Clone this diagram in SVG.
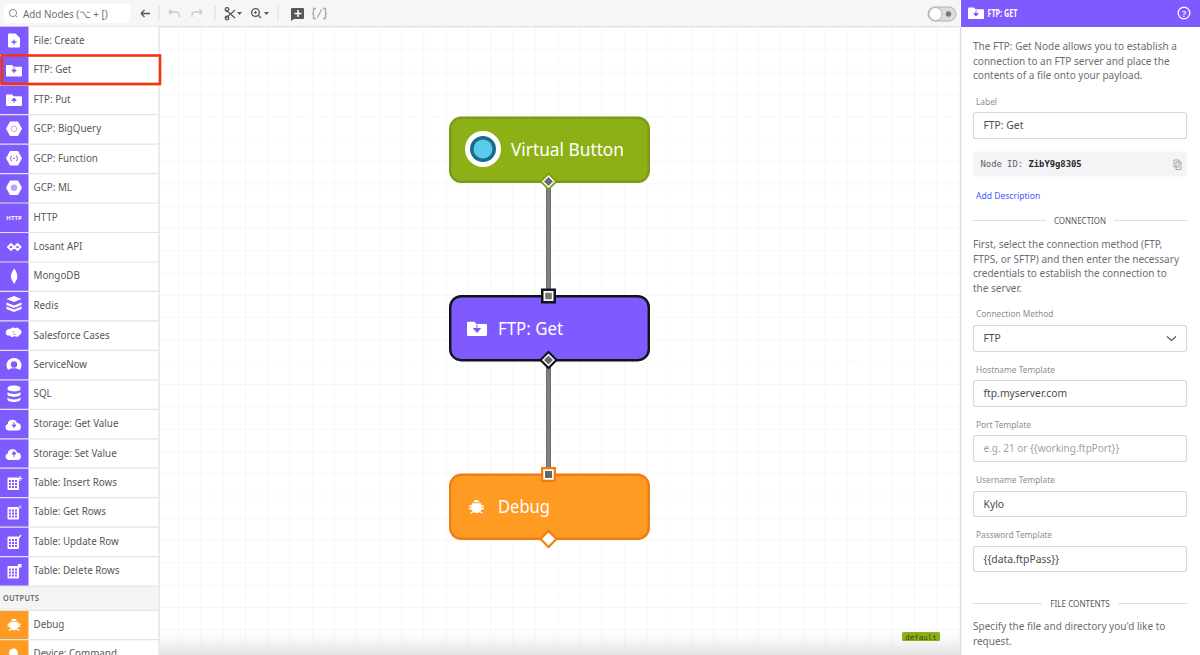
<svg xmlns="http://www.w3.org/2000/svg" width="1200" height="655" viewBox="0 0 1200 655">
<style>
text{font-family:"Noto Sans","Open Sans","Liberation Sans",sans-serif}
.sep{stroke:#e3e4e6;stroke-width:1.2}
.rt{font-size:10.6px;fill:#55575c}
.ic{fill:#fff}
.ip{fill:#7f5aff}
.para{font-size:10.9px;fill:#6c6e73}
.lab{font-size:9.2px;fill:#8d8f93}
.field{fill:#fff;stroke:#d5d7da;stroke-width:1.2}
.val{font-size:11px;fill:#4a4c50}
.head{font-size:9.2px;fill:#55575c}
.rule{stroke:#dfe0e2;stroke-width:1.2}
.nt{font-size:18.4px;fill:#fff}
.wire{stroke:#666;stroke-width:5}
.wire2{stroke:#808080;stroke-width:3.400}
.tool{fill:none;stroke:#55575c;stroke-width:1.300}
.tooloff{fill:none;stroke:#c9cacc;stroke-width:1.400}
</style>
<defs>
<pattern id="grid" width="22.300" height="22.300" patternUnits="userSpaceOnUse" x="-0.300" y="4.900">
<path d="M22.300 0H0V22.300" fill="none" stroke="#f0f0f1" stroke-width="1"/>
</pattern>
<linearGradient id="fade" x1="0" y1="0" x2="0" y2="1"><stop offset="0" stop-color="#e4e4e4" stop-opacity="0"/><stop offset="1" stop-color="#dcdcdc" stop-opacity=".8"/></linearGradient>
<g id="folder"><path d="M-7-5.500h5l1.600 1.800H7a1 1 0 0 1 1 1V5a1 1 0 0 1-1 1H-7a1 1 0 0 1-1-1V-4.500a1 1 0 0 1 1-1z"/></g>
<g id="hex"><path d="M-4-7.200H4L8 0 4 7.200H-4L-8 0z"/></g>
<g id="tbl"><rect x="-6.500" y="-6" width="11.500" height="12.500" rx="1" class="ic"/><path d="M-5-3.500h2v2h-2zM-2-3.500h2v2h-2zM1-3.500h2v2H1zM-5-.5h2v2h-2zM-2-.5h2v2h-2zM1-.5h2v2H1zM-5 2.500h2v2h-2zM-2 2.500h2v2h-2zM1 2.500h2v2H1z" class="ip"/></g>
<g id="cloud"><path d="M-5.500 6a3.300 3.300 0 0 1-.8-6.400A4.800 4.800 0 0 1 3-1.600 3.900 3.900 0 0 1 4.200 6z"/></g>
<g id="bug"><path d="M-2.800-3.600a2.900 2.900 0 0 1 5.600 0zM-3.800-2.800h7.600A4.400 4.400 0 0 1 4.500-.9H6.500v1.300H4.500V1.300H6.500v1.300H4.300A4.600 4.600 0 0 1 3.200 4.200L5.500 5.200 5 6.400 2.200 5.100A4.500 4.500 0 0 1-2.200 5.100L-5 6.400-5.500 5.200-3.200 4.200A4.600 4.600 0 0 1-4.300 2.600H-6.500V1.300H-4.500V.4H-6.500V-.9H-4.500A4.400 4.400 0 0 1-3.800-2.800z"/></g>
</defs>

<rect width="1200" height="655" fill="#fff"/>
<rect id="canvas" x="160" y="27" width="800" height="628" fill="url(#grid)"/>
<rect x="160" y="632" width="800" height="23" fill="url(#fade)"/>

<g id="toolbar">
<rect width="961" height="26.500" fill="#f6f6f7"/>
<rect y="26" width="961" height="1.200" fill="#e1e2e4"/>
<rect x="4" y="4" width="126" height="19" rx="3" fill="#fff"/>
<circle cx="13" cy="13" r="3.600" fill="none" stroke="#8b8d90"/><path d="M15.500 15.500l2 2" stroke="#8b8d90"/>
<text transform="translate(23 17.500) scale(.93 1)" font-size="10.600" fill="#6c6e73">Add Nodes (⌥ + [)</text>
<path d="M141 13.500h9M141 13.500l3.500-3.500M141 13.500l3.500 3.500" class="tool"/>
<path d="M159 6v15" stroke="#d9dadc"/>
<path d="M169 12h7a3 3 0 0 1 3 3v2M169 12l2.500-2.500M169 12l2.500 2.500" class="tooloff"/>
<path d="M202 12h-7a3 3 0 0 0-3 3v2M202 12l-2.500-2.500M202 12l-2.500 2.500" class="tooloff"/>
<path d="M215 6v15" stroke="#d9dadc"/>
<path d="M226 10l9 8M226 18l9-8" class="tool"/><circle cx="227" cy="9.500" r="1.800" class="tool"/><circle cx="227" cy="18" r="1.800" class="tool"/>
<path d="M237 12h5l-2.500 3z" fill="#55575c"/>
<circle cx="255.500" cy="12.500" r="3.800" class="tool"/><path d="M258.500 15.500l2.500 2.500" class="tool"/><path d="M254 12.500h3M255.500 11v3" stroke="#55575c"/>
<path d="M264 12h5l-2.500 3z" fill="#55575c"/>
<path d="M278 6v15" stroke="#d9dadc"/>
<path d="M292 8h11a1 1 0 0 1 1 1v9a1 1 0 0 1-1 1h-9l-3 2V9a1 1 0 0 1 1-1z" fill="#55575c"/><path d="M298 10v7M294.500 13.500h7" stroke="#fff" stroke-width="1.500"/>
<path d="M316 8.500h-2.500v4l-1 1 1 1v4h2.500M323 8.500h2.500v4l1 1-1 1v4H323M321.500 9.500l-4 8" fill="none" stroke="#a8a9ac" stroke-width="1.300"/>
<rect x="928" y="7" width="28" height="14" rx="7" fill="#dcdcde" stroke="#b0b1b3"/>
<circle cx="935.500" cy="14" r="6.500" fill="#fff" stroke="#a9aaac" stroke-width=".8"/>
<circle cx="948.500" cy="14" r="2.700" fill="#77787b"/>
</g>

<g id="sidebar">
<rect y="26.700" width="158.500" height="628.300" fill="#fff"/>
<rect x="158.500" y="26.700" width="1.500" height="628.300" fill="#e6e6e8"/>
<rect y="26.700" width="28.500" height="559.500" fill="#7f5aff"/>
<rect y="586.300" width="158.500" height="24" fill="#f4f4f5"/>
<rect y="610.300" width="28.500" height="44.700" fill="#ff9a22"/>
<path class="sep" d="M0 55.700H158.500M0 85.200H158.500M0 114.600H158.500M0 144.100H158.500M0 173.600H158.500M0 203H158.500M0 232.500H158.500M0 262H158.500M0 291.400H158.500M0 320.900H158.500M0 350.400H158.500M0 379.800H158.500M0 409.300H158.500M0 438.800H158.500M0 468.200H158.500M0 497.700H158.500M0 527.200H158.500M0 556.600H158.500M0 586.100H158.500M0 610.300H158.500M0 639.700H158.500"/>

<g class="rt" transform="translate(33.500 0) scale(.925 1)">
<text y="44">File: Create</text>
<text y="73.500">FTP: Get</text>
<text y="103">FTP: Put</text>
<text y="132.500">GCP: BigQuery</text>
<text y="162">GCP: Function</text>
<text y="191.500">GCP: ML</text>
<text y="221">HTTP</text>
<text y="250">Losant API</text>
<text y="279.500">MongoDB</text>
<text y="309">Redis</text>
<text y="339">Salesforce Cases</text>
<text y="368">ServiceNow</text>
<text y="397.500">SQL</text>
<text y="427">Storage: Get Value</text>
<text y="457">Storage: Set Value</text>
<text y="486">Table: Insert Rows</text>
<text y="515.500">Table: Get Rows</text>
<text y="545">Table: Update Row</text>
<text y="574.500">Table: Delete Rows</text>
<text y="628">Debug</text>
<text y="657">Device: Command</text>
</g>
<text transform="translate(3 600.500) scale(.92 1)" font-size="8" font-weight="600" letter-spacing=".4" fill="#66686c">OUTPUTS</text>

<g class="ic">
<path d="M9 33.500h6.500l4.500 4.500v8.500a1 1 0 0 1-1 1H9a1 1 0 0 1-1-1v-12a1 1 0 0 1 1-1z"/>
<path d="M14 39.500v5M11.500 42h5" stroke="#7f5aff" stroke-width="1.300"/>
<use href="#folder" x="14" y="70.500"/><path d="M14 67.500v4M11.800 70l2.200 2.500 2.200-2.500z" stroke="#7f5aff" fill="#7f5aff"/>
<use href="#folder" x="14" y="100"/><path d="M14 98v5M11.800 100.500l2.200-2.500 2.200 2.500z" stroke="#7f5aff" fill="#7f5aff"/>
<use href="#hex" x="14" y="128.800"/><circle cx="14" cy="128.800" r="2.800" fill="none" stroke="#b9a5ff"/>
<use href="#hex" x="14" y="158.300"/><path d="M11.500 155.500l-1 2.800 1 2.800M16.500 155.500l1 2.800-1 2.800M13 158.300h2" fill="none" stroke="#7f5aff"/>
<use href="#hex" x="14" y="187.700"/><circle cx="14" cy="187.700" r="3.300" fill="#b9a5ff"/>
<text x="14" y="219.500" font-size="6" font-weight="700" text-anchor="middle" fill="#fff">HTTP</text>
<path d="M11 244l3 3-3 3-3-3zM17.500 244l3 3-3 3-3-3z" fill="none" stroke="#fff" stroke-width="1.800"/>
<path d="M14.300 268.500c2.200 3 3.400 6.500 3 9.500-.3 2-1.700 3-2.700 5.500h-.8c-1-2.500-2.500-3.500-2.800-5.500-.4-3 .8-6.500 3.300-9.500z"/>
<path d="M14 296l7.500 3-7.500 3-7.500-3zM6.500 302.500l7.500 3 7.500-3v2.500l-7.500 3-7.500-3zM6.500 306.500l7.500 3 7.500-3v2.500l-7.500 3-7.500-3z"/>
<path d="M10 329c1.500-2 4-2 5-.7 1.800-1 4-.3 4.500 1.200 2.500.2 3 4.500 0 5.500-1.200 2.500-4 2-5 1-1.500 1.500-4 1-5-.5-3 .4-4.500-2.200-3.500-4 .3-1.800 2.500-3 4-2.500z"/>
<path d="M12 332h2.500M13 334.500h3" stroke="#b9a5ff"/>
<path d="M14 358c4.200 0 7.500 3.200 7.500 7.200 0 2-.9 3.600-1.800 4.800-1-1.200-3.300-1.800-5.700-1.800s-4.700.6-5.700 1.800c-.9-1.200-1.800-2.800-1.800-4.800 0-4 3.300-7.200 7.500-7.200z"/><circle cx="14" cy="364.500" r="3.200" fill="#7f5aff"/>
<path d="M7.500 388c0-3.500 13-3.500 13 0v1c0 3.200-13 3.200-13 0zM7.500 392c2 2.500 11 2.500 13 0v2.500c0 3-13 3-13 0zM7.500 397.500c2 2.500 11 2.500 13 0v2c0 3.300-13 3.300-13 0z"/>
<use href="#cloud" x="14" y="424.500"/><path d="M14 422v4M12 425l2 2.500 2-2.500z" stroke="#7f5aff" fill="#7f5aff"/>
<use href="#cloud" x="14" y="454"/><path d="M14 452v5M12 454l2-2.500 2 2.500z" stroke="#7f5aff" fill="#7f5aff"/>
<use href="#tbl" x="14" y="483.500"/><path d="M20 476v5M17.500 478.500h5" stroke="#fff" stroke-width="1.200"/>
<use href="#tbl" x="14" y="513"/><circle cx="20" cy="507" r="1.800" fill="#b9a5ff"/>
<use href="#tbl" x="14" y="542.500"/><path d="M18 539l3-4" stroke="#fff" stroke-width="1.300"/>
<use href="#tbl" x="14" y="572"/><rect x="18" y="564" width="3.500" height="3.500"/>
<use href="#bug" x="14" y="624.500"/>
<circle cx="13.500" cy="653" r="4.500" fill="#fff"/>
</g>
</g>

<rect id="highlight" x="2" y="55.500" width="158" height="28.500" fill="none" stroke="#f7330f" stroke-width="2.600"/>

<g id="connectors">
<path class="wire" d="M548.500 182V296M548.500 360V475"/>
<path class="wire2" d="M548.500 182V296M548.500 360V475"/>
</g>

<g id="node-virtual-button">
<rect x="450.200" y="117.800" width="198.600" height="64" rx="11" fill="#8db016" stroke="#7a9a19" stroke-width="2.400"/>
<circle cx="483" cy="149" r="18" fill="#fff"/>
<circle cx="483" cy="149" r="13" fill="#176f87"/>
<circle cx="483" cy="149" r="9.500" fill="#5bc9ea"/>
<text class="nt" x="511" y="155.500" textLength="113" lengthAdjust="spacingAndGlyphs">Virtual Button</text>
<path d="M548.500 172.500l9 9-9 9-9-9z" fill="#7a9a19"/>
<path d="M548.500 175l6.500 6.500-6.500 6.500-6.500-6.500z" fill="#fff"/>
<path d="M548.500 177l4.500 4.500-4.500 4.500-4.500-4.500z" fill="#6a6a6a"/>
</g>

<g id="node-ftp-get">
<rect x="450.200" y="296.200" width="198.600" height="64" rx="11" fill="#7f5aff" stroke="#11131a" stroke-width="2.400"/>
<use href="#folder" fill="#fff" transform="translate(477 328.500) scale(1.250)"/>
<path d="M477 324.500v5M473.500 328.500h7l-3.500 4z" fill="#7f5aff" stroke="#7f5aff"/>
<text class="nt" x="498" y="334.500" textLength="65" lengthAdjust="spacingAndGlyphs">FTP: Get</text>
<rect x="541" y="288.500" width="15" height="15" fill="#11131a"/>
<rect x="543.500" y="291" width="10" height="10" fill="#fff"/>
<rect x="545.200" y="292.700" width="6.600" height="6.600" fill="#777"/>
<path d="M548.500 350.500l9.500 9.500-9.500 9.500-9.500-9.500z" fill="#11131a"/>
<path d="M548.500 353.500l6.500 6.500-6.500 6.500-6.500-6.500z" fill="#fff"/>
<path d="M548.500 355.500l4.500 4.500-4.500 4.500-4.500-4.500z" fill="#6a6a6a"/>
</g>

<g id="node-debug">
<rect x="450.200" y="474.800" width="198.600" height="64" rx="11" fill="#ff9a22" stroke="#ee7e12" stroke-width="2.400"/>
<use href="#bug" fill="#fff" transform="translate(476.500 506.500) scale(1.150)"/>
<text class="nt" x="498" y="513" textLength="52" lengthAdjust="spacingAndGlyphs">Debug</text>
<rect x="541" y="467" width="15" height="15" fill="#ee7e12"/>
<rect x="543.300" y="469.300" width="10.400" height="10.400" fill="#fff"/>
<rect x="545" y="471" width="7" height="7" fill="#666"/>
<path d="M548.500 529.500l9.500 9.500-9.500 9.500-9.500-9.500z" fill="#ee7e12"/>
<path d="M548.500 532.500l6.500 6.500-6.500 6.500-6.500-6.500z" fill="#fff"/>
</g>

<rect x="902" y="632" width="38" height="9" rx="1.500" fill="#8db016"/>
<text x="921" y="639.500" font-size="7.500" text-anchor="middle" fill="#3c4a10" style="font-family:'DejaVu Sans Mono',monospace">default</text>

<g id="panel">
<rect x="960" width="240" height="655" fill="#fff"/>
<rect x="960" y="27" width="1.200" height="628" fill="#dcdde0"/>
<rect x="961" width="239" height="27" fill="#7f5aff"/>
<use href="#folder" x="976" y="13" fill="#fff"/><path d="M976 10.500v4.500M973.800 13.500l2.200 2.500 2.200-2.500z" fill="#7f5aff" stroke="#7f5aff"/>
<text transform="translate(987.500 17) scale(.72 1)" font-size="10" font-weight="700" fill="#fff">FTP: GET</text>
<circle cx="1184" cy="13" r="5.800" fill="none" stroke="#fff" stroke-width="1.300"/>
<text x="1184" y="16.500" font-size="9" font-weight="600" text-anchor="middle" fill="#fff">?</text>

<g class="para" transform="translate(973 0) scale(.92 1)">
<text y="50">The FTP: Get Node allows you to establish a</text>
<text y="65">connection to an FTP server and place the</text>
<text y="79.500">contents of a file onto your payload.</text>
<text y="248">First, select the connection method (FTP,</text>
<text y="263">FTPS, or SFTP) and then enter the necessary</text>
<text y="277.500">credentials to establish the connection to</text>
<text y="292.500">the server.</text>
<text y="630">Specify the file and directory you'd like to</text>
<text y="645">request.</text>
</g>
<g class="lab" transform="translate(976 0) scale(.907 1)">
<text y="105">Label</text>
<text y="317">Connection Method</text>
<text y="373">Hostname Template</text>
<text y="428">Port Template</text>
<text y="483">Username Template</text>
<text y="538">Password Template</text>
</g>
<rect class="field" x="973.500" y="112.500" width="213" height="26" rx="2.500"/>
<rect x="973" y="151.500" width="214" height="25" rx="2.500" fill="#f4f4f6"/>
<rect class="field" x="973.500" y="325.500" width="213" height="26" rx="2.500"/>
<rect class="field" x="973.500" y="380.500" width="213" height="26" rx="2.500"/>
<rect class="field" x="973.500" y="435.500" width="213" height="26" rx="2.500"/>
<rect class="field" x="973.500" y="491.500" width="213" height="25" rx="2.500"/>
<rect class="field" x="973.500" y="546.500" width="213" height="25" rx="2.500"/>
<g class="val" transform="translate(983.500 0) scale(.94 1)">
<text y="129.500">FTP: Get</text>
<text y="342">FTP</text>
<text y="397">ftp.myserver.com</text>
<text y="508">Kylo</text>
<text y="563">{{data.ftpPass}}</text>
</g>
<text class="val" transform="translate(983.500 452) scale(.91 1)" style="fill:#a0a2a5">e.g. 21 or {{working.ftpPort}}</text>
<text x="980.500" y="166.800" font-size="8.850" fill="#5d5f63" style="font-family:'DejaVu Sans Mono',monospace">Node ID: <tspan font-weight="700" fill="#24262a">ZibY9g8305</tspan></text>
<path d="M1174 160h5v7h-5zM1176 162h5v7.500h-5z" fill="#f4f4f6" stroke="#a5a7aa" stroke-width="1"/>
<text transform="translate(976 198.800) scale(.93 1)" font-size="9.200" fill="#3d5afe">Add Description</text>
<path class="rule" d="M973 220.500H1046M1114 220.500H1187M973 603.500H1042M1118 603.500H1187"/>
<text class="head" transform="translate(1080 223.500) scale(.87 1)" text-anchor="middle">CONNECTION</text>
<text class="head" transform="translate(1080 606.500) scale(.88 1)" text-anchor="middle">FILE CONTENTS</text>
<path d="M1167 336.500l4.500 4 4.500-4" fill="none" stroke="#55575c" stroke-width="1.200"/>
</g>
</svg>
